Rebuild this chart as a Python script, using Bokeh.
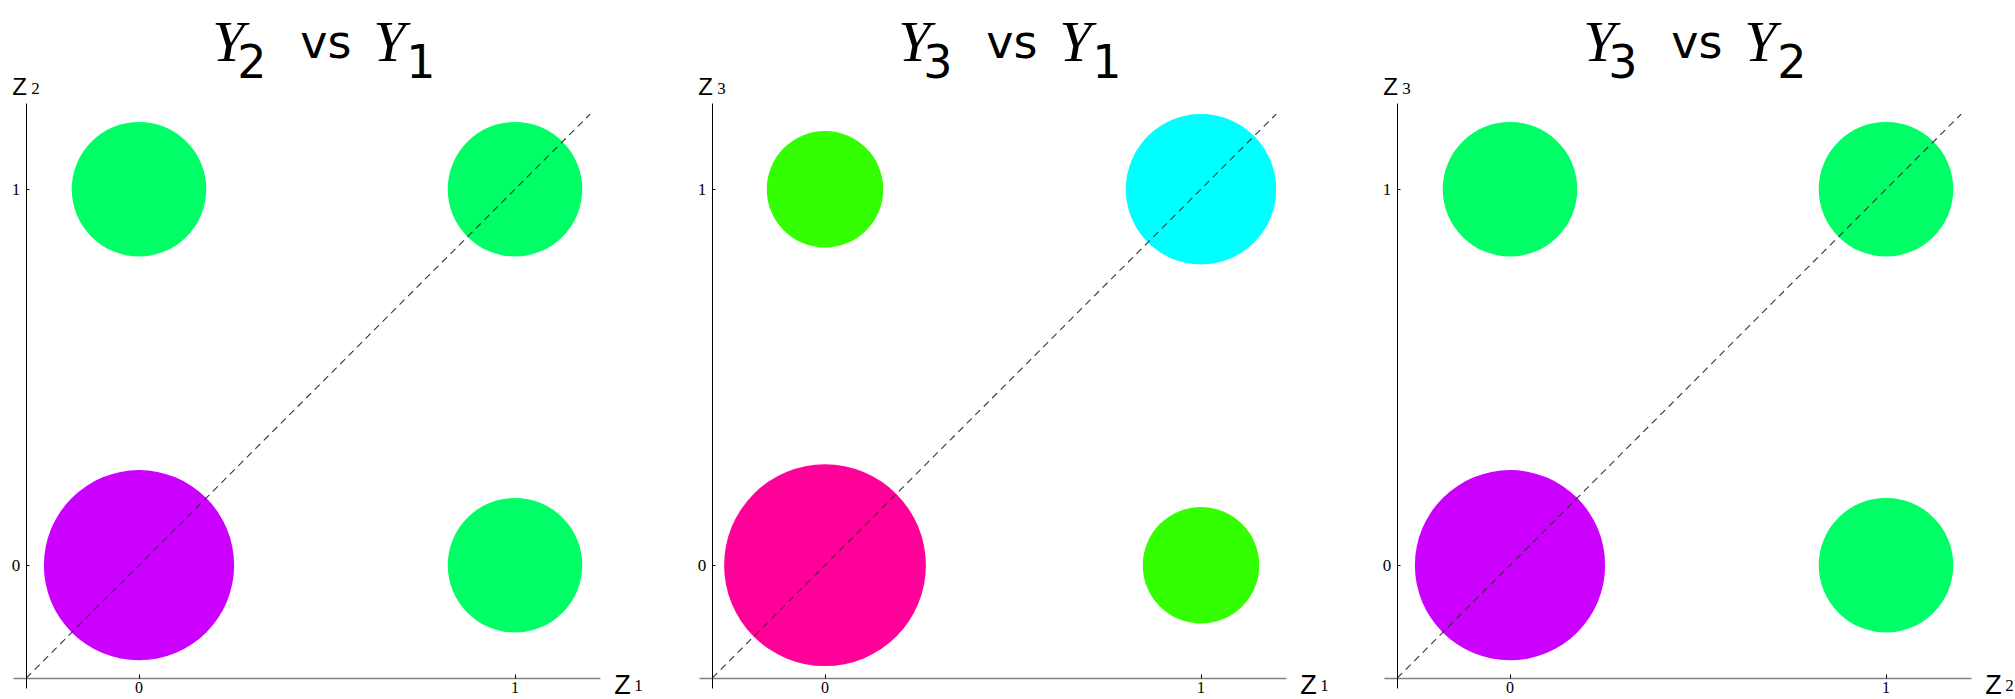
import colorsys
from bokeh.plotting import figure
from bokeh.layouts import row
from bokeh.models import Range1d, FixedTicker, Label
from bokeh.embed import file_html
from bokeh.resources import INLINE

# ---------------- data ----------------
panel_titles = [("Y", "2", "vs", "Y", "1"),
                ("Y", "3", "vs", "Y", "1"),
                ("Y", "3", "vs", "Y", "2")]
x_axis_names = [("Z", "1"), ("Z", "1"), ("Z", "2")]
y_axis_names = [("Z", "2"), ("Z", "3"), ("Z", "3")]
cell_x = [0, 0, 1, 1]
cell_y = [0, 1, 0, 1]
cell_prob = [[0.40, 0.20, 0.20, 0.20],
             [0.45, 0.15, 0.15, 0.25],
             [0.40, 0.20, 0.20, 0.20]]
tick_values = [0, 1]
tick_labels = ["0", "1"]
diag_line = [-0.3, 1.2]
axis_origin = -0.3
axis_x_bounds = (-0.333, 1.228)
axis_y_bounds = (-0.328, 1.228)

# ---------------- layout / style ----------------
PPU = 376.0            # pixels per data unit (both directions)
FIG_H = 699
TOP_PX = 103           # px from figure top to the top of the y axis
AXIS_LEFT_PX = 25.7    # px from figure left edge to the y axis
fig_widths = [686, 685, 644]

Y_TOP = axis_y_bounds[1] + TOP_PX / PPU
Y_BOT = Y_TOP - FIG_H / PPU


def hue_color(p):
    r, g, b = colorsys.hsv_to_rgb((2 * p) % 1.0, 1.0, 1.0)
    return "#%02x%02x%02x" % (round(r * 255), round(g * 255), round(b * 255))


def px_x(px):
    # px offset from the y axis -> data x
    return axis_origin + px / PPU


def page_y(py):
    # page y pixel -> data y
    return Y_TOP - py / PPU


def add_label(p, text, x, y, font, size, style="normal"):
    p.add_layout(Label(x=x, y=y, text=text, text_font=font,
                       text_font_size=size, text_font_style=style,
                       text_color="black", text_baseline="alphabetic",
                       text_align="left"))


plots = []
for k in range(3):
    w = fig_widths[k]
    x_start = axis_origin - AXIS_LEFT_PX / PPU
    p = figure(width=w, height=FIG_H,
               x_range=Range1d(x_start, x_start + w / PPU),
               y_range=Range1d(Y_BOT, Y_TOP),
               output_backend="svg", toolbar_location=None,
               min_border=0)
    p.grid.visible = False
    p.outline_line_color = None
    p.background_fill_color = "white"
    p.border_fill_color = "white"

    probs = cell_prob[k]
    radii = [0.4 * (q ** 0.5) for q in probs]
    colors = [hue_color(q) for q in probs]
    p.circle(x=cell_x, y=cell_y, radius=radii, fill_color=colors,
             line_color=None)
    p.line(x=diag_line, y=diag_line, line_color="#333333", line_width=1.1,
           line_dash="7 5")

    for ax in (p.xaxis[0], p.yaxis[0]):
        ax.fixed_location = axis_origin
        ax.ticker = FixedTicker(ticks=tick_values)
        ax.major_label_overrides = {v: s for v, s in zip(tick_values, tick_labels)}
        ax.minor_tick_line_color = None
        ax.major_tick_out = 0
        ax.major_label_text_font = "Liberation Serif"
        ax.major_label_text_font_size = "17px"
        ax.major_label_text_color = "black"
        ax.major_tick_line_color = "black"
    p.xaxis.bounds = axis_x_bounds
    p.yaxis.bounds = axis_y_bounds
    p.xaxis.axis_line_color = "#808080"
    p.xaxis.axis_line_width = 1.5
    p.xaxis.major_tick_in = 4
    p.xaxis.major_label_standoff = 4
    p.xaxis.major_label_text_font_size = "16px"
    p.yaxis.axis_line_color = "black"
    p.yaxis.axis_line_width = 1
    p.yaxis.major_tick_in = 3
    p.yaxis.major_label_standoff = 6

    # title pieces
    t = panel_titles[k]
    add_label(p, t[0], px_x(186), page_y(41), "Liberation Serif", "58px", "italic")
    add_label(p, t[1], px_x(211), page_y(60), "DejaVu Sans", "46px")
    add_label(p, t[2], px_x(274), page_y(41), "DejaVu Sans", "46px")
    add_label(p, t[3], px_x(347), page_y(41), "Liberation Serif", "58px", "italic")
    add_label(p, t[4], px_x(380), page_y(60), "DejaVu Sans", "46px")

    # axis names
    yn = y_axis_names[k]
    add_label(p, yn[0], px_x(-14), page_y(86), "Liberation Sans", "24px")
    add_label(p, yn[1], px_x(5), page_y(88), "Liberation Serif", "17px")
    xn = x_axis_names[k]
    add_label(p, xn[0], px_x(588), page_y(684), "Liberation Sans", "27px")
    add_label(p, xn[1], px_x(608), page_y(685), "Liberation Serif", "17px")

    plots.append(p)

layout = row(*plots)
open("out.html", "w").write(file_html(layout, INLINE))
